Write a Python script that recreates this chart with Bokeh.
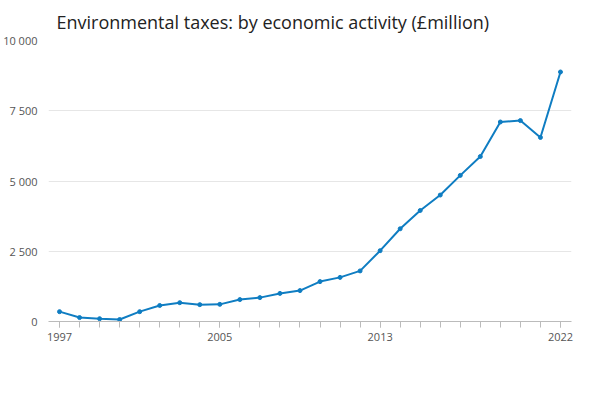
from bokeh.plotting import figure
from bokeh.models import FixedTicker, Legend, LegendItem, Label, Range1d
from bokeh.embed import file_html
from bokeh.resources import INLINE

years = list(range(1997, 2023))
values = [350, 140, 100, 70, 350, 570, 670, 600, 610, 780, 850, 1000, 1100, 1420,
          1570, 1800, 2520, 3300, 3950, 4500, 5200, 5870, 7100, 7150, 6550, 8880]
series_name = "Environmental taxes: by economic activity (£million)"
x_ticks = [1997, 2005, 2013, 2022]
y_ticks = [0, 2500, 5000, 7500, 10000]
y_labels = ["0", "2 500", "5 000", "7 500", "10 000"]

p = figure(frame_width=523, frame_height=281, output_backend="svg", toolbar_location=None,
           x_range=Range1d(1996.45, 2022.55), y_range=Range1d(0, 10000),
           min_border_left=0, min_border_right=7, min_border_top=0, min_border_bottom=0)
p.title.text = "Environmental taxes: by economic activity (£million)"
p.title.text_font = "Open Sans"
p.title.text_font_size = "18px"
p.title.text_font_style = "normal"
p.title.text_color = "#222222"
p.title.offset = 8
p.title.standoff = 14

c = "#0f7dc2"
r = p.line(years, values, line_color=c, line_width=2)
p.scatter(years, values, color=c, size=4)

p.xaxis.ticker = FixedTicker(ticks=x_ticks, minor_ticks=years)
p.yaxis.ticker = FixedTicker(ticks=y_ticks)
p.yaxis.major_label_overrides = {t: l for t, l in zip(y_ticks, y_labels)}
for ax in (p.xaxis, p.yaxis):
    ax.major_label_text_font = "Open Sans"
    ax.major_label_text_font_size = "11px"
    ax.major_label_text_color = "#555555"
p.yaxis.axis_line_color = None
p.yaxis.major_tick_line_color = None
p.yaxis.minor_tick_line_color = None
p.xaxis.axis_line_color = "#bbbbbb"
p.xaxis.major_tick_line_color = "#bbbbbb"
p.xaxis.minor_tick_line_color = "#bbbbbb"
p.xaxis.major_tick_out = 6
p.xaxis.minor_tick_out = 6
p.xaxis.major_tick_in = 0
p.xaxis.minor_tick_in = 0
p.xgrid.grid_line_color = None
p.ygrid.grid_line_color = "#e6e6e6"
p.outline_line_color = None

legend = Legend(items=[LegendItem(label=series_name, renderers=[r])],
                location="center", orientation="horizontal",
                label_text_font="Open Sans", label_text_font_size="13px",
                label_text_font_style="bold", label_text_color="#333333",
                border_line_color=None, margin=14, padding=4, spacing=0)
p.add_layout(legend, "below")

src = Label(x=523, y=-70, x_units="screen", y_units="screen", text="Source:",
            text_align="right", text_font="Open Sans", text_font_size="13px",
            text_color="#555555")
p.add_layout(src)

open("out.html", "w").write(file_html(p, INLINE))
